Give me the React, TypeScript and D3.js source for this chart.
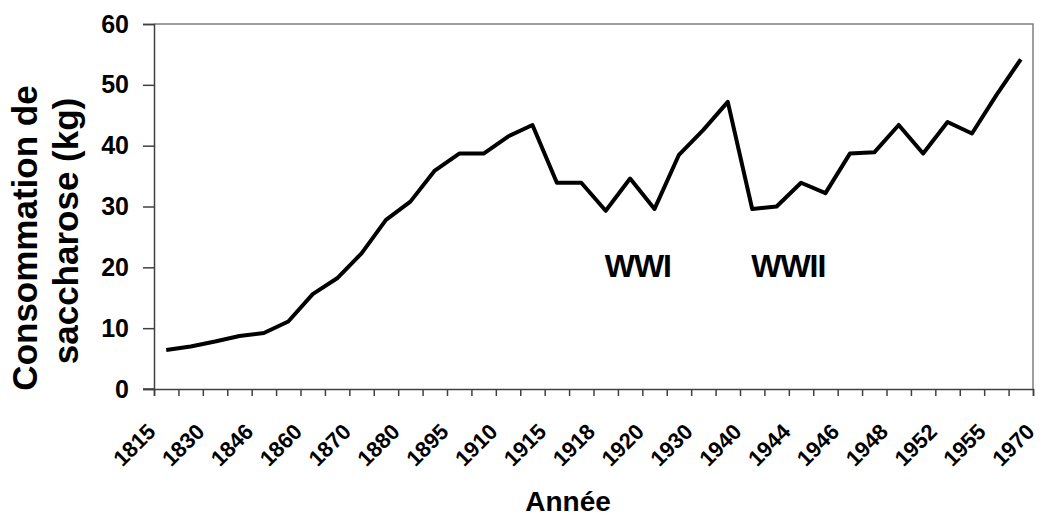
import React, { useEffect, useRef } from "react";
import * as d3 from "d3";

// sucrose consumption (kg) per period
const values: number[] = [
  6.4, 7.0, 7.8, 8.7, 9.2, 11.1, 15.6, 18.2, 22.3, 27.8, 30.8, 35.9,
  38.7, 38.7, 41.5, 43.4, 33.9, 33.9, 29.3, 34.6, 29.6, 38.5, 42.6, 47.2,
  29.6, 30.0, 33.9, 32.2, 38.7, 38.9, 43.4, 38.7, 43.9, 42.0, 48.3, 54.2,
];

const tickLabels: string[] = [
  "1815", "1830", "1846", "1860", "1870", "1880", "1895", "1910", "1915", "1918",
  "1920", "1930", "1940", "1944", "1946", "1948", "1952", "1955", "1970",
];

const yTicks: number[] = [0, 10, 20, 30, 40, 50, 60];

const annotationLabels: string[] = ["WWI", "WWII"];
const annotationIndex: number[] = [18, 24];

const FONT = "'Liberation Sans', Arial, sans-serif";

export default function App() {
  const svgRef = useRef<SVGSVGElement | null>(null);

  useEffect(() => {
    const width = 1042, height = 516;
    const left = 154, right = 1033, top = 24, bottom = 389;

    d3.select(svgRef.current).selectAll("*").remove();
    const svg = d3.select(svgRef.current)
      .attr("width", width)
      .attr("height", height);

    const x = d3.scaleLinear().domain([0, values.length]).range([left, right]);
    const y = d3.scaleLinear().domain([0, 60]).range([bottom, top]);

    // plot frame (top and right)
    svg.append("path")
      .attr("d", `M${left},${top}H${right}V${bottom}`)
      .attr("fill", "none")
      .attr("stroke", "#7f7f7f")
      .attr("stroke-width", 1.5);

    // y axis
    const yAxis = svg.append("g")
      .attr("transform", `translate(${left},0)`)
      .call(d3.axisLeft(y).tickValues(yTicks).tickSize(11).tickPadding(14));
    yAxis.select(".domain").attr("stroke", "#404040").attr("stroke-width", 1.5);
    yAxis.selectAll(".tick line").attr("stroke", "#404040").attr("stroke-width", 1.5);
    yAxis.selectAll(".tick text")
      .attr("font-family", FONT)
      .attr("font-size", 25)
      .attr("font-weight", "bold")
      .attr("fill", "#000");

    // x axis: ticks between categories
    const boundaries = d3.range(values.length + 1);
    const xAxis = svg.append("g")
      .attr("transform", `translate(0,${bottom})`)
      .call(d3.axisBottom(x).tickValues(boundaries).tickSize(7).tickFormat(() => ""));
    xAxis.select(".domain").attr("stroke", "#404040").attr("stroke-width", 1.5);
    xAxis.selectAll(".tick line").attr("stroke", "#404040").attr("stroke-width", 1.5);
    // extend axis line to the left for the 0 tick
    svg.append("line")
      .attr("x1", left - 11).attr("x2", left)
      .attr("y1", bottom).attr("y2", bottom)
      .attr("stroke", "#404040").attr("stroke-width", 1.5);

    svg.append("g")
      .selectAll("text")
      .data(tickLabels)
      .enter()
      .append("text")
      .attr("transform", (d, i) => `translate(${x(i * 2) + 3},${bottom + 44}) rotate(-45)`)
      .attr("text-anchor", "end")
      .attr("font-family", FONT)
      .attr("font-size", 22)
      .attr("font-weight", "bold")
      .text(d => d);

    // line
    const line = d3.line<number>()
      .x((d, i) => x(i + 0.5))
      .y(d => y(d));

    svg.append("path")
      .datum(values)
      .attr("d", line)
      .attr("fill", "none")
      .attr("stroke", "#000")
      .attr("stroke-width", 4)
      .attr("stroke-linejoin", "round");

    // annotations
    svg.append("g")
      .selectAll("text")
      .data(annotationLabels)
      .enter()
      .append("text")
      .attr("x", (d, i) => x(annotationIndex[i] + 0.5) - 1)
      .attr("y", y(18.4))
      .attr("font-family", FONT)
      .attr("font-size", 32)
      .attr("font-weight", "bold")
      .attr("letter-spacing", -1)
      .text(d => d);

    // axis titles
    svg.append("text")
      .attr("x", 568)
      .attr("y", 511)
      .attr("text-anchor", "middle")
      .attr("font-family", FONT)
      .attr("font-size", 28)
      .attr("font-weight", "bold")
      .text("Année");

    svg.append("text")
      .attr("transform", "translate(37,238) rotate(-90)")
      .attr("text-anchor", "middle")
      .attr("font-family", FONT)
      .attr("font-size", 35)
      .attr("font-weight", "bold")
      .text("Consommation de");

    svg.append("text")
      .attr("transform", "translate(78,231) rotate(-90)")
      .attr("text-anchor", "middle")
      .attr("font-family", FONT)
      .attr("font-size", 35)
      .attr("font-weight", "bold")
      .text("saccharose (kg)");
  }, []);

  return (
    <svg
      ref={svgRef}
      style={{ position: "absolute", left: 0, top: 0, background: "#fff" }}
    ></svg>
  );
}
